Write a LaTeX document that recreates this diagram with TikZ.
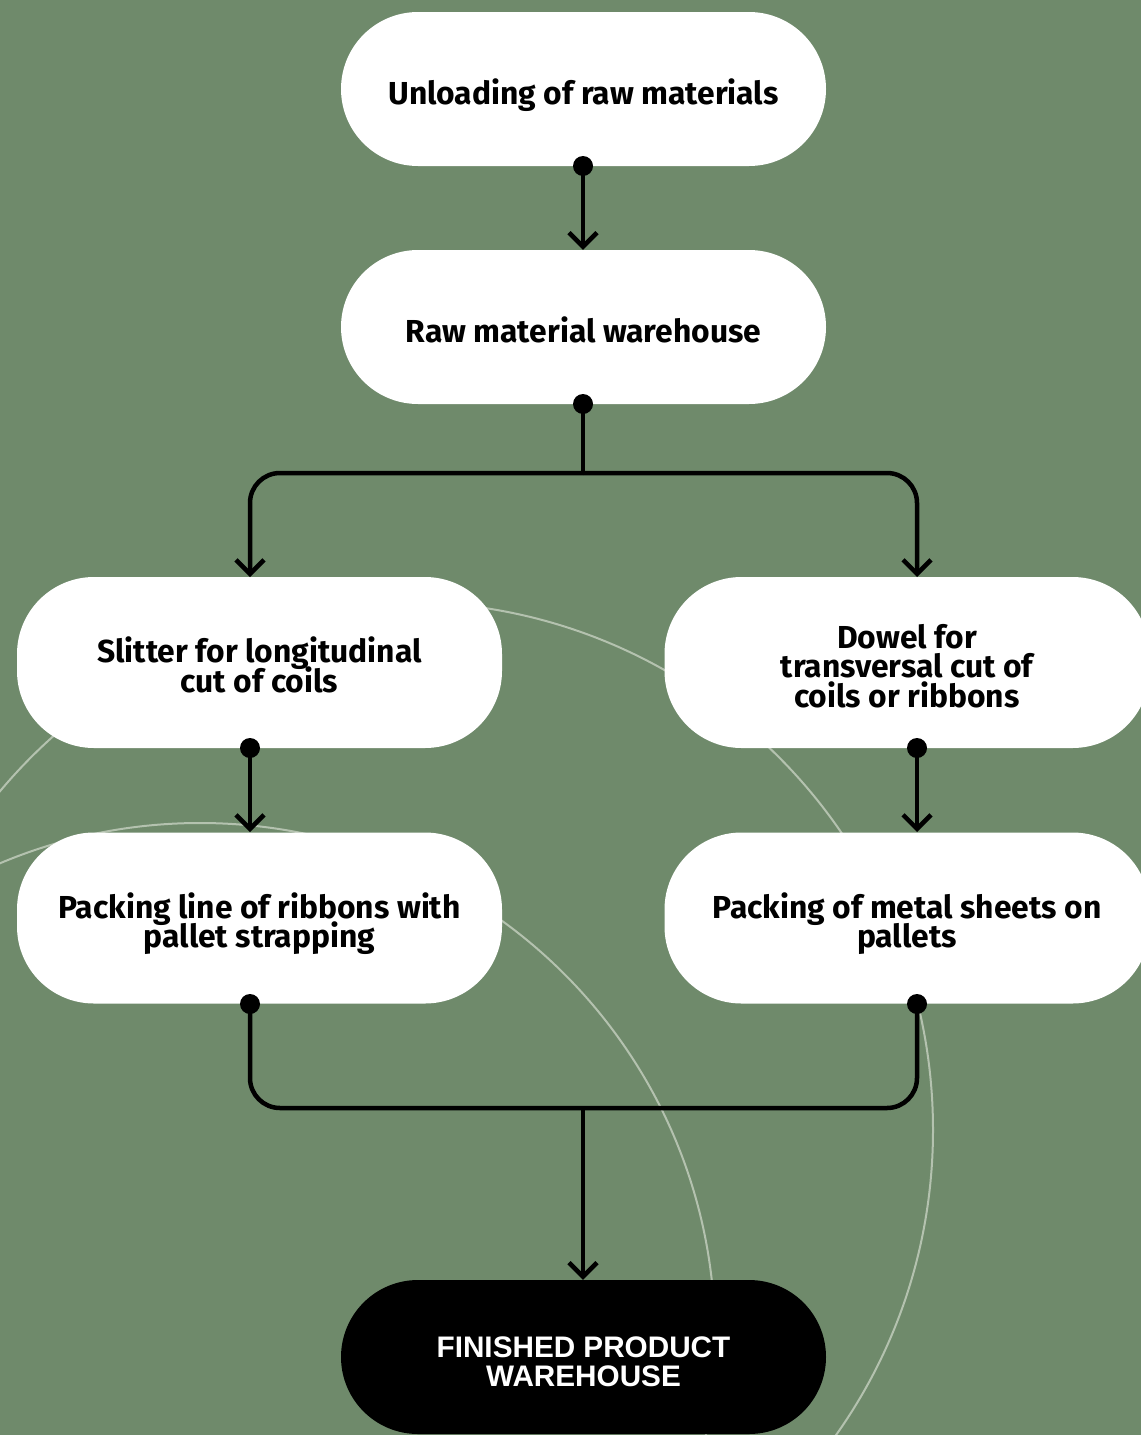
\documentclass[tikz,border=0pt]{standalone}
\usepackage{fontspec}
\setmainfont{Fira Sans}
\newfontfamily\finfont{Liberation Sans}
\usetikzlibrary{arrows.meta}
\definecolor{bgcol}{HTML}{6F8A6B}
\definecolor{ringcol}{HTML}{B4C2AF}
\newcommand\hst{\rule{0pt}{40pt}}
\newcommand\dst{\rule[-10pt]{0pt}{10pt}}
\newcommand\nolskip{\lineskiplimit -50pt\relax}
\tikzset{
  stadium/.style={fill=white, rounded corners=77pt, minimum width=485pt, inner sep=0pt, align=center,
    font={\bfseries\fontsize{31.8}{29.5}\selectfont\nolskip}},
  tallbox/.style={stadium, minimum height=171pt},
  shortbox/.style={stadium, minimum height=154pt},
  finalbox/.style={fill=black, text=white, rounded corners=77pt, minimum width=485pt, minimum height=154pt,
    inner sep=0pt, align=center, font={\finfont\bfseries\fontsize{29.7}{29.5}\selectfont\nolskip}},
  conn/.style={line width=4.5pt, rounded corners=30pt},
  arr/.style={conn, -{Straight Barb[length=14pt,width=28pt,line width=4.5pt]}},
  ring/.style={draw=ringcol, line width=2pt},
}
\begin{document}
\begin{tikzpicture}[x=1pt,y=-1pt]
\fill[bgcol] (0,0) rectangle (1141,1435);
\useasboundingbox (0,0) rectangle (1141,1435);
\clip (0,0) rectangle (1141,1435);
\draw[ring] (405,1130) circle (528pt);
\draw[ring] (200,1338) circle (515pt);

\node[shortbox] (n1) at (583.5,89) {\hst Unloading of raw materials\dst};
\node[shortbox] (n2) at (583.5,327) {\hst Raw material warehouse\dst};
\node[tallbox] (sl) at (259.5,662.5) {\hst Slitter for longitudinal\\cut of coils\dst};
\node[tallbox] (dw) at (907,662.5) {\hst Dowel for\\transversal cut of\\coils or ribbons\dst};
\node[tallbox] (pl) at (259.5,918) {\hst Packing line of ribbons with\\pallet strapping\dst};
\node[tallbox] (pm) at (907,918) {\hst Packing of metal sheets on\\pallets\dst};
\node[finalbox] (fin) at (583.5,1357) {\hst FINISHED PRODUCT\\WAREHOUSE\dst};

\coordinate (a1) at (583,166);
\coordinate (a2) at (583,404);
\coordinate (bl) at (250,748);
\coordinate (br) at (917,748);
\coordinate (cl) at (250,1004);
\coordinate (cr) at (917,1004);
\coordinate (tl) at (250,577);
\coordinate (tr) at (917,577);
\coordinate (ul) at (250,832);
\coordinate (ur) at (917,832);
\coordinate (mid) at (583,1108);

\draw[arr] (a1) -- (n2.north -| a1);
\draw[conn] (a2) -- (583,473);
\draw[arr] (583,473) -- (250,473) -- (tl);
\draw[arr] (583,473) -- (917,473) -- (tr);
\draw[arr] (bl) -- (ul);
\draw[arr] (br) -- (ur);
\draw[conn] (cl) -- (250,1108) -- (917,1108) -- (cr);
\draw[arr] (mid) -- (fin.north -| mid);

\foreach \p in {a1,a2,bl,br,cl,cr} \fill (\p) circle (10pt);
\end{tikzpicture}
\end{document}
